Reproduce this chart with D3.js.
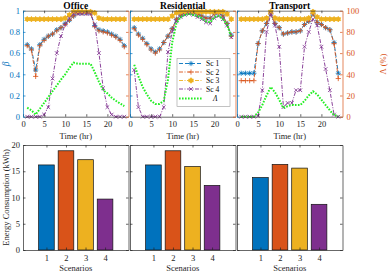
<!DOCTYPE html>
<html>
<head>
<meta charset="utf-8">
<script src="https://cdnjs.cloudflare.com/ajax/libs/d3/7.8.5/d3.min.js"></script>
<style>
  body { margin: 0; background: #fff; }
  svg { display: block; }
</style>
</head>
<body>
<div id="my_dataviz"></div>
<script>
// ---- data ----
var hours = [1,2,3,4,5,6,7,8,9,10,11,12,13,14,15,16,17,18,19,20,21,22,23,24]
var timeTicks = [0,5,10,15,20]
var betaTicks = [0,0.2,0.4,0.6,0.8,1]
var lambdaTicks = [0,20,40,60,80,100]
var energyTicks = [0,5,10,15,20]
var scenarios = [1,2,3,4]
var seriesNames = ["Sc 1","Sc 2","Sc 3","Sc 4"]
var sectors = ["Office","Residential","Transport"]

var officeSc1 = [0.68,0.64,0.44,0.68,0.73,0.76,0.78,0.82,0.84,0.88,0.91,0.95,0.98,0.98,0.98,0.98,0.86,0.82,0.81,0.80,0.78,0.76,0.73,0.67]
var officeSc2 = [0.67,0.63,0.38,0.67,0.72,0.76,0.78,0.81,0.84,0.87,0.91,0.95,0.98,0.98,0.98,0.98,0.85,0.81,0.80,0.79,0.77,0.75,0.72,0.66]
var officeSc3 = [0.92,0.92,0.92,0.92,0.92,0.92,0.92,0.92,0.92,0.93,0.96,0.99,0.99,0.99,0.99,0.99,0.98,0.93,0.92,0.92,0.92,0.92,0.92,0.92]
var officeSc4 = [0,0,0,0,0.02,0.09,0.36,0.6,0.76,0.87,0.93,0.97,0.97,0.97,0.97,0.97,0.87,0.6,0.27,0.09,0.02,0,0,0]
var officeLambda = [8.5,6,2,7.5,13,18.5,24,29.5,35,40,46,51,50,50,50,50,42,33,25,22,18,15,12.5,10]

var residentialSc1 = [0.84,0.78,0.74,0.69,0.64,0.61,0.64,0.70,0.76,0.83,0.92,0.96,0.98,0.99,0.98,0.97,0.95,0.93,0.93,0.97,0.98,0.95,0.88,0.77]
var residentialSc2 = [0.83,0.77,0.73,0.68,0.63,0.60,0.63,0.70,0.76,0.83,0.92,0.96,0.98,0.99,0.98,0.97,0.95,0.93,0.93,0.97,0.98,0.95,0.88,0.76]
var residentialSc3 = [0.92,0.92,0.92,0.92,0.92,0.92,0.92,0.92,0.92,0.95,0.98,0.99,0.99,0.99,0.99,0.99,0.99,0.99,0.99,0.99,0.99,0.99,0.97,0.92]
var residentialSc4 = [0.44,0.09,0,0,0,0,0,0.09,0.61,0.80,0.90,0.94,0.96,0.97,0.96,0.94,0.92,0.89,0.88,0.93,0.95,0.92,0.86,0.75]
var residentialLambda = [49,38,28,21,15,12,12,15,35,70,88,94,96,97,96,95,93,90,89,94,95,92,87,75]

var transportSc1 = [0.41,0.41,0.41,0.41,0.69,0.81,0.88,0.97,0.88,0.84,0.78,0.79,0.80,0.80,0.81,0.87,0.90,0.97,0.89,0.87,0.84,0.82,0.70,0.41]
var transportSc2 = [0.34,0.34,0.34,0.34,0.69,0.81,0.88,0.97,0.88,0.84,0.78,0.79,0.80,0.80,0.81,0.87,0.90,0.97,0.89,0.87,0.84,0.82,0.69,0.36]
var transportSc3 = [0.92,0.92,0.92,0.92,0.92,0.92,0.93,0.99,0.93,0.92,0.92,0.92,0.92,0.92,0.92,0.92,0.93,0.99,0.94,0.92,0.92,0.92,0.92,0.92]
var transportSc4 = [0,0,0,0,0.01,0.25,0.80,0.97,0.86,0.66,0.09,0.13,0.13,0.25,0.25,0.66,0.80,0.92,0.86,0.66,0.45,0.25,0.02,0]
var transportLambda = [0,0,0,0,4,11,20,28,23,16,8,10,11,11,11,15,20,24,21,16,11,6,1.5,0.5]

var officeEnergy = [16.2,18.9,17.2,9.7]
var residentialEnergy = [16.2,18.9,15.9,12.3]
var transportEnergy = [13.8,16.3,15.6,8.7]

// ---- layout ----
var width = 392
    height = 272
var panelLeft = [23, 130, 237]
var panelWidth = 105.5
var topRange = [116.7, 10.7]
var botRange = [250, 145]

var axisColor = "#262626"
var leftColor = "#0072BD"
var rightColor = "#D95319"
var colors = ["#0072BD","#D95319","#EDB120","#7E2F8E"]
var lambdaColor = "#22ee22"
var dashes = ["4,2", "4,1.5,1,1.5", "4,1.5,1,1.5", "4,1.5,1,1.5"]
var markers = ["asterisk","plus","hexagram","x"]
var font = "'Liberation Serif', 'DejaVu Serif', serif"

var svg = d3.select("#my_dataviz")
  .append("svg")
    .attr("width", width)
    .attr("height", height)
    .style("font-family", font)

function markerPath(type, r) {
  var a = r * 0.7071
  if (type == "asterisk")
    return "M"+(-r)+",0L"+r+",0M0,"+(-r)+"L0,"+r+"M"+(-a)+","+(-a)+"L"+a+","+a+"M"+(-a)+","+a+"L"+a+","+(-a)
  if (type == "plus")
    return "M"+(-r)+",0L"+r+",0M0,"+(-r)+"L0,"+r
  if (type == "x")
    return "M"+(-a)+","+(-a)+"L"+a+","+a+"M"+(-a)+","+a+"L"+a+","+(-a)
  // hexagram: two triangles
  var p = ""
  ;[-90, 90].forEach(function(start) {
    for (var k = 0; k < 3; k++) {
      var ang = (start + k * 120) * Math.PI / 180
      p += (k == 0 ? "M" : "L") + (r * Math.cos(ang)).toFixed(2) + "," + (r * Math.sin(ang)).toFixed(2)
    }
    p += "Z"
  })
  return p
}

function styleAxis(g, color, showText) {
  g.attr("font-family", font).attr("font-size", 8.5)
  g.select(".domain").attr("stroke", color).attr("stroke-width", 0.7)
  g.selectAll(".tick line").attr("stroke", color).attr("stroke-width", 0.7)
  g.selectAll(".tick text").attr("fill", color)
  if (!showText) g.selectAll(".tick text").remove()
}

function fmt(d) { return String(d) }

// ---- top row: beta and Lambda over the day ----
function drawTop(i, title, betaSeries, lambda) {
  var x = d3.scaleLinear().domain([0, 25]).range([panelLeft[i], panelLeft[i] + panelWidth])
  var y = d3.scaleLinear().domain([0, 1]).range(topRange)
  var yR = d3.scaleLinear().domain([0, 100]).range(topRange)
  var g = svg.append("g")

  // beta series
  betaSeries.forEach(function(vals, s) {
    var line = d3.line()
      .x(function(d, k) { return x(hours[k]) })
      .y(function(d) { return y(d) })
    g.append("path")
      .attr("d", line(vals))
      .attr("fill", "none")
      .attr("stroke", colors[s])
      .attr("stroke-width", 0.9)
      .attr("stroke-dasharray", dashes[s])
    g.selectAll(".m" + s)
      .data(vals)
      .enter()
      .append("path")
        .attr("transform", function(d, k) { return "translate(" + x(hours[k]) + "," + y(d) + ")" })
        .attr("d", markerPath(markers[s], markers[s] == "hexagram" ? 2.8 : 2.6))
        .attr("fill", markers[s] == "hexagram" ? colors[s] : "none")
        .attr("stroke", colors[s])
        .attr("stroke-width", 0.8)
  })

  // Lambda (right axis)
  g.append("path")
    .attr("d", d3.line()
      .x(function(d, k) { return x(hours[k]) })
      .y(function(d) { return yR(d) })(lambda))
    .attr("fill", "none")
    .attr("stroke", lambdaColor)
    .attr("stroke-width", 2)
    .attr("stroke-dasharray", "1.6,1.4")

  // axes
  var bottom = svg.append("g").attr("transform", "translate(0," + topRange[0] + ")")
    .call(d3.axisBottom(x).tickValues(timeTicks).tickSize(-2.5).tickSizeOuter(0).tickPadding(4).tickFormat(fmt))
  styleAxis(bottom, axisColor, true)
  var top = svg.append("g").attr("transform", "translate(0," + topRange[1] + ")")
    .call(d3.axisTop(x).tickValues(timeTicks).tickSize(-2.5).tickSizeOuter(0))
  styleAxis(top, axisColor, false)
  top.select(".domain").attr("stroke-width", 0.6)
  var left = svg.append("g").attr("transform", "translate(" + panelLeft[i] + ",0)")
    .call(d3.axisLeft(y).tickValues(betaTicks).tickSize(-2.5).tickSizeOuter(0).tickPadding(3).tickFormat(fmt))
  styleAxis(left, leftColor, i == 0)
  var right = svg.append("g").attr("transform", "translate(" + (panelLeft[i] + panelWidth) + ",0)")
    .call(d3.axisRight(yR).tickValues(lambdaTicks).tickSize(-2.5).tickSizeOuter(0).tickPadding(4).tickFormat(fmt))
  styleAxis(right, rightColor, i == 2)

  svg.append("text")
    .attr("x", x(12.5)).attr("y", 8.5)
    .attr("text-anchor", "middle")
    .attr("font-size", 9.5).attr("font-weight", "bold")
    .attr("fill", "#000")
    .text(title)
  svg.append("text")
    .attr("x", x(12.5)).attr("y", 138.5)
    .attr("text-anchor", "middle")
    .attr("font-size", 8.5).attr("fill", axisColor)
    .text("Time (hr)")
}

// ---- bottom row: energy per scenario ----
function drawBars(i, values) {
  var x = d3.scaleLinear().domain([-0.2, 5.2]).range([panelLeft[i], panelLeft[i] + panelWidth])
  var y = d3.scaleLinear().domain([0, 20]).range(botRange)
  var bw = x(0.8) - x(0)

  svg.append("g").selectAll("rect")
    .data(values)
    .enter()
    .append("rect")
      .attr("x", function(d, k) { return x(scenarios[k]) - bw / 2 })
      .attr("y", function(d) { return y(d) })
      .attr("width", bw)
      .attr("height", function(d) { return y(0) - y(d) })
      .attr("fill", function(d, k) { return colors[k] })
      .attr("stroke", "#111")
      .attr("stroke-width", 0.7)

  var bottom = svg.append("g").attr("transform", "translate(0," + botRange[0] + ")")
    .call(d3.axisBottom(x).tickValues(scenarios).tickSize(-2.5).tickSizeOuter(0).tickPadding(5).tickFormat(fmt))
  styleAxis(bottom, axisColor, true)
  var top = svg.append("g").attr("transform", "translate(0," + botRange[1] + ")")
    .call(d3.axisTop(x).tickValues(scenarios).tickSize(-2.5).tickSizeOuter(0))
  styleAxis(top, axisColor, false)
  var left = svg.append("g").attr("transform", "translate(" + panelLeft[i] + ",0)")
    .call(d3.axisLeft(y).tickValues(energyTicks).tickSize(-2.5).tickSizeOuter(0).tickPadding(3).tickFormat(fmt))
  styleAxis(left, axisColor, i == 0)
  var right = svg.append("g").attr("transform", "translate(" + (panelLeft[i] + panelWidth) + ",0)")
    .call(d3.axisRight(y).tickValues(energyTicks).tickSize(-2.5).tickSizeOuter(0))
  styleAxis(right, axisColor, false)

  svg.append("text")
    .attr("x", x(2.5)).attr("y", 270.5)
    .attr("text-anchor", "middle")
    .attr("font-size", 8.5).attr("fill", axisColor)
    .text("Scenarios")
}

drawTop(0, sectors[0], [officeSc1, officeSc2, officeSc3, officeSc4], officeLambda)
drawTop(1, sectors[1], [residentialSc1, residentialSc2, residentialSc3, residentialSc4], residentialLambda)
drawTop(2, sectors[2], [transportSc1, transportSc2, transportSc3, transportSc4], transportLambda)

drawBars(0, officeEnergy)
drawBars(1, residentialEnergy)
drawBars(2, transportEnergy)

// axis titles
svg.append("text")
  .attr("transform", "translate(8.5,64) rotate(-90)")
  .attr("text-anchor", "middle")
  .attr("font-size", 9.5).attr("font-style", "italic")
  .attr("fill", leftColor)
  .text("β")
svg.append("text")
  .attr("transform", "translate(386,64) rotate(-90)")
  .attr("text-anchor", "middle")
  .attr("font-size", 8.5)
  .attr("fill", rightColor)
  .text("Λ (%)")
svg.append("text")
  .attr("transform", "translate(9,197.5) rotate(-90)")
  .attr("text-anchor", "middle")
  .attr("font-size", 8.5)
  .attr("fill", axisColor)
  .text("Energy Consumption (kWh)")

// legend inside the Residential panel
var leg = svg.append("g").attr("transform", "translate(177,58.5)")
leg.append("rect")
  .attr("width", 53).attr("height", 48)
  .attr("fill", "#fff")
  .attr("stroke", "#999")
  .attr("stroke-width", 0.6)
var legRows = [5, 13.5, 22, 30.5, 40]
seriesNames.forEach(function(name, s) {
  var row = leg.append("g").attr("transform", "translate(0," + legRows[s] + ")")
  row.append("line")
    .attr("x1", 2).attr("x2", 26)
    .attr("stroke", colors[s]).attr("stroke-width", 0.9)
    .attr("stroke-dasharray", dashes[s])
  row.append("path")
    .attr("transform", "translate(14,0)")
    .attr("d", markerPath(markers[s], markers[s] == "hexagram" ? 2.8 : 2.6))
    .attr("fill", markers[s] == "hexagram" ? colors[s] : "none")
    .attr("stroke", colors[s]).attr("stroke-width", 0.8)
  row.append("text")
    .attr("x", 29).attr("y", 2.6)
    .attr("font-size", 7.5).attr("fill", "#000")
    .text(name)
})
leg.append("line")
  .attr("x1", 2).attr("x2", 26)
  .attr("y1", legRows[4]).attr("y2", legRows[4])
  .attr("stroke", lambdaColor).attr("stroke-width", 2)
  .attr("stroke-dasharray", "1.6,1.4")
leg.append("text")
  .attr("x", 36).attr("y", legRows[4] + 2.8)
  .attr("font-size", 7.5).attr("font-style", "italic").attr("fill", "#000")
  .text("Λ")
</script>
</body>
</html>
